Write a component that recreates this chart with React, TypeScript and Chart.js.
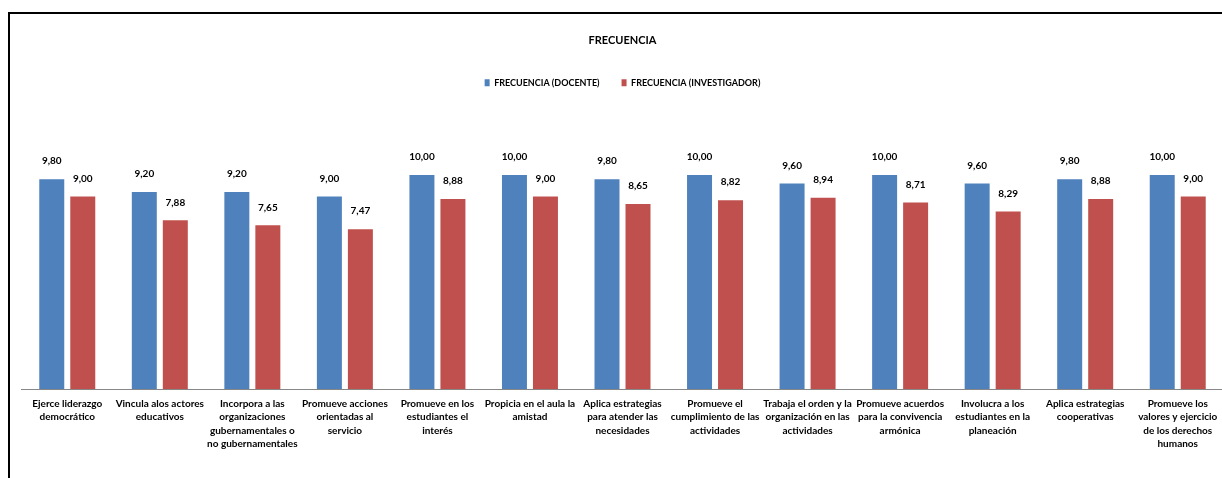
import React, { useEffect, useRef } from "react";
import { Chart, registerables } from "chart.js";

Chart.register(...registerables);

const categories: string[][] = [
  ["Ejerce liderazgo", "democrático"],
  ["Vincula alos actores", "educativos"],
  ["Incorpora a las", "organizaciones", "gubernamentales o", "no gubernamentales"],
  ["Promueve acciones", "orientadas al", "servicio"],
  ["Promueve en los", "estudiantes el", "interés"],
  ["Propicia en el aula la", "amistad"],
  ["Aplica estrategias", "para atender las", "necesidades"],
  ["Promueve el", "cumplimiento de las", "actividades"],
  ["Trabaja el orden y la", "organización en las", "actividades"],
  ["Promueve acuerdos", "para la convivencia", "armónica"],
  ["Involucra a los", "estudiantes en la", "planeación"],
  ["Aplica estrategias", "cooperativas"],
  ["Promueve los", "valores y ejercicio", "de los derechos", "humanos"],
];

const docente: number[] = [9.8, 9.2, 9.2, 9.0, 10.0, 10.0, 9.8, 10.0, 9.6, 10.0, 9.6, 9.8, 10.0];
const investigador: number[] = [9.0, 7.88, 7.65, 7.47, 8.88, 9.0, 8.65, 8.82, 8.94, 8.71, 8.29, 8.88, 9.0];

const seriesNames: string[] = ["FRECUENCIA (DOCENTE)", "FRECUENCIA (INVESTIGADOR)"];
const titleText = "FRECUENCIA";

const FONT = "Lato";

const valueLabels = {
  id: "valueLabels",
  afterDatasetsDraw(chart: any) {
    const ctx = chart.ctx;
    ctx.save();
    ctx.font = `bold 10px ${FONT}`;
    ctx.fillStyle = "#000";
    ctx.textAlign = "center";
    ctx.textBaseline = "middle";
    chart.data.datasets.forEach((ds: any, i: number) => {
      const meta = chart.getDatasetMeta(i);
      meta.data.forEach((bar: any, j: number) => {
        const v = ds.data[j] as number;
        ctx.fillText(v.toFixed(2).replace(".", ","), bar.x, bar.y - 18);
      });
    });
    ctx.restore();
  },
};

const legendMargin = {
  id: "legendMargin",
  beforeInit(chart: any) {
    const legend = chart.legend;
    if (!legend) return;
    const orig = legend.fit;
    legend.fit = function () {
      orig.call(this);
      this.height += 35;
    };
  },
};

export default function App() {
  const ref = useRef<HTMLCanvasElement | null>(null);
  useEffect(() => {
    if (!ref.current) return;
    const chart = new Chart(ref.current, {
      type: "bar",
      data: {
        labels: categories,
        datasets: [
          {
            label: seriesNames[0],
            data: docente,
            backgroundColor: "#4F81BD",
            categoryPercentage: 0.67,
            barPercentage: 0.806,
          },
          {
            label: seriesNames[1],
            data: investigador,
            backgroundColor: "#C0504D",
            categoryPercentage: 0.67,
            barPercentage: 0.806,
          },
        ],
      },
      options: {
        responsive: false,
        animation: false,
        layout: { padding: { left: 11, right: 10, top: 0, bottom: 19 } },
        plugins: {
          title: {
            display: true,
            text: titleText,
            color: "#000",
            font: { family: FONT, size: 11, weight: "bold" },
            padding: { top: 20, bottom: 9 },
          },
          legend: {
            display: true,
            position: "top",
            labels: {
              color: "#000",
              font: { family: FONT, size: 9, weight: "bold" },
              boxWidth: 5,
              boxHeight: 7,
              padding: 22,
            },
          },
          tooltip: { enabled: false },
        },
        scales: {
          x: {
            grid: { display: false, drawTicks: false },
            border: { display: true, color: "#878787", width: 1 },
            ticks: {
              color: "#000",
              font: { family: FONT, size: 10, weight: "bold", lineHeight: 1.35 },
              padding: 8,
              autoSkip: false,
              maxRotation: 0,
              minRotation: 0,
            },
          },
          y: {
            display: false,
            min: 0,
            max: 12,
          },
        },
      },
      plugins: [valueLabels, legendMargin],
    });
    return () => chart.destroy();
  }, []);

  return (
    <div
      style={{
        position: "fixed",
        left: 8,
        top: 12,
        width: 1214,
        height: 466,
        overflow: "hidden",
        borderLeft: "2px solid #000",
        borderTop: "2px solid #000",
        boxSizing: "border-box",
        background: "#fff",
      }}
    >
      <canvas
        ref={ref}
        width={1224}
        height={464}
        style={{ position: "absolute", left: 0, top: 0, width: 1224, height: 464 }}
      />
    </div>
  );
}
